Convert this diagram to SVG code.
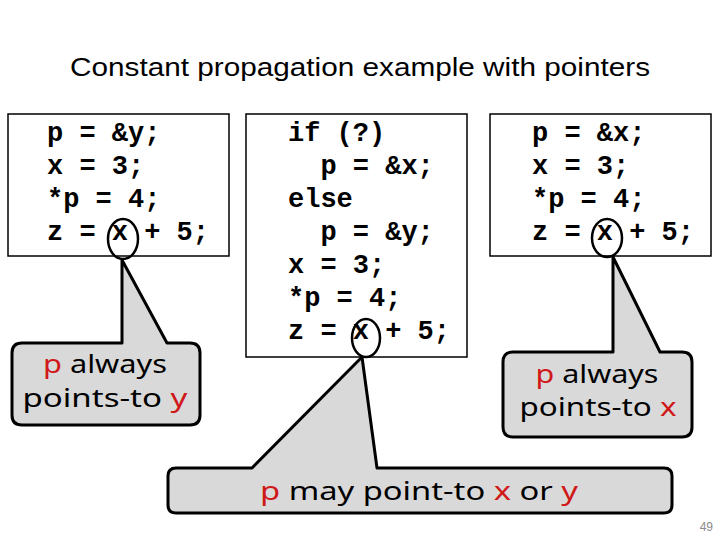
<svg xmlns="http://www.w3.org/2000/svg" width="720" height="540" viewBox="0 0 720 540">
  <style>
    .title { font-family: "Liberation Sans", "Open Sans", sans-serif; font-size: 26px; fill: #000; }
    .code { font-family: "Liberation Mono", "DejaVu Sans Mono", monospace; font-size: 27px; font-weight: bold; fill: #000; white-space: pre; }
    .box { fill: #fff; stroke: #000; stroke-width: 1.5; }
    .ring { fill: none; stroke: #000; stroke-width: 2.5; }
    .callout { fill: #d9d9d9; stroke: #000; stroke-width: 3; stroke-linejoin: round; }
    .note { font-family: "Noto Sans", "DejaVu Sans", sans-serif; font-size: 25px; fill: #000; }
    .red { fill: #d01818; }
    .page { font-family: "Liberation Sans", sans-serif; font-size: 12px; fill: #8c8c8c; }
  </style>
  <rect width="720" height="540" fill="#fff"/>
  <text class="title" x="360" y="76" text-anchor="middle" textLength="580" lengthAdjust="spacingAndGlyphs">Constant propagation example with pointers</text>

  <g id="box-left">
    <rect class="box" x="8" y="114" width="221" height="142"/>
    <text class="code" x="47" y="141" xml:space="preserve">p = &amp;y;</text>
    <text class="code" x="47" y="174" xml:space="preserve">x = 3;</text>
    <text class="code" x="47" y="207" xml:space="preserve">*p = 4;</text>
    <text class="code" x="47" y="240" xml:space="preserve">z = x + 5;</text>
  </g>
  <g id="box-middle">
    <rect class="box" x="246" y="114" width="221" height="243"/>
    <text class="code" x="288" y="141" xml:space="preserve">if (?)</text>
    <text class="code" x="288" y="174" xml:space="preserve">  p = &amp;x;</text>
    <text class="code" x="288" y="207" xml:space="preserve">else</text>
    <text class="code" x="288" y="240" xml:space="preserve">  p = &amp;y;</text>
    <text class="code" x="288" y="273" xml:space="preserve">x = 3;</text>
    <text class="code" x="288" y="306" xml:space="preserve">*p = 4;</text>
    <text class="code" x="288" y="339" xml:space="preserve">z = x + 5;</text>
  </g>
  <g id="box-right">
    <rect class="box" x="490" y="114" width="221" height="142"/>
    <text class="code" x="532" y="141" xml:space="preserve">p = &amp;x;</text>
    <text class="code" x="532" y="174" xml:space="preserve">x = 3;</text>
    <text class="code" x="532" y="207" xml:space="preserve">*p = 4;</text>
    <text class="code" x="532" y="240" xml:space="preserve">z = x + 5;</text>
  </g>

  <g id="connectors">
    <ellipse class="ring" cx="123" cy="239" rx="15" ry="20"/>
    <ellipse class="ring" cx="366" cy="338" rx="14" ry="19"/>
    <ellipse class="ring" cx="607" cy="238" rx="15" ry="19"/>
  </g>

  <g id="note-left">
    <path class="callout" d="M22,343 L122,343 L122,260 L167,343 L190,343 Q200,343 200,353 L200,415 Q200,425 190,425 L22,425 Q12,425 12,415 L12,353 Q12,343 22,343 Z"/>
    <text class="note" x="105" y="373" text-anchor="middle" textLength="124" lengthAdjust="spacingAndGlyphs"><tspan class="red">p</tspan> always</text>
    <text class="note" x="105" y="407" text-anchor="middle" textLength="165" lengthAdjust="spacingAndGlyphs">points-to <tspan class="red">y</tspan></text>
  </g>

  <g id="note-right">
    <path class="callout" d="M513,352 L613,352 L613,257 L660,352 L682,352 Q692,352 692,362 L692,427 Q692,437 682,437 L513,437 Q503,437 503,427 L503,362 Q503,352 513,352 Z"/>
    <text class="note" x="597" y="383" text-anchor="middle" textLength="123" lengthAdjust="spacingAndGlyphs"><tspan class="red">p</tspan> always</text>
    <text class="note" x="598" y="416" text-anchor="middle" textLength="157" lengthAdjust="spacingAndGlyphs">points-to <tspan class="red">x</tspan></text>
  </g>

  <g id="note-bottom">
    <path class="callout" d="M176,468 L252,468 L362,357 L377,468 L664,468 Q672,468 672,476 L672,505 Q672,513 664,513 L176,513 Q168,513 168,505 L168,476 Q168,468 176,468 Z"/>
    <text class="note" x="419" y="500" text-anchor="middle" textLength="318" lengthAdjust="spacingAndGlyphs"><tspan class="red">p</tspan> may point-to <tspan class="red">x</tspan> or <tspan class="red">y</tspan></text>
  </g>

  <text class="page" x="713" y="531" text-anchor="end">49</text>
</svg>
